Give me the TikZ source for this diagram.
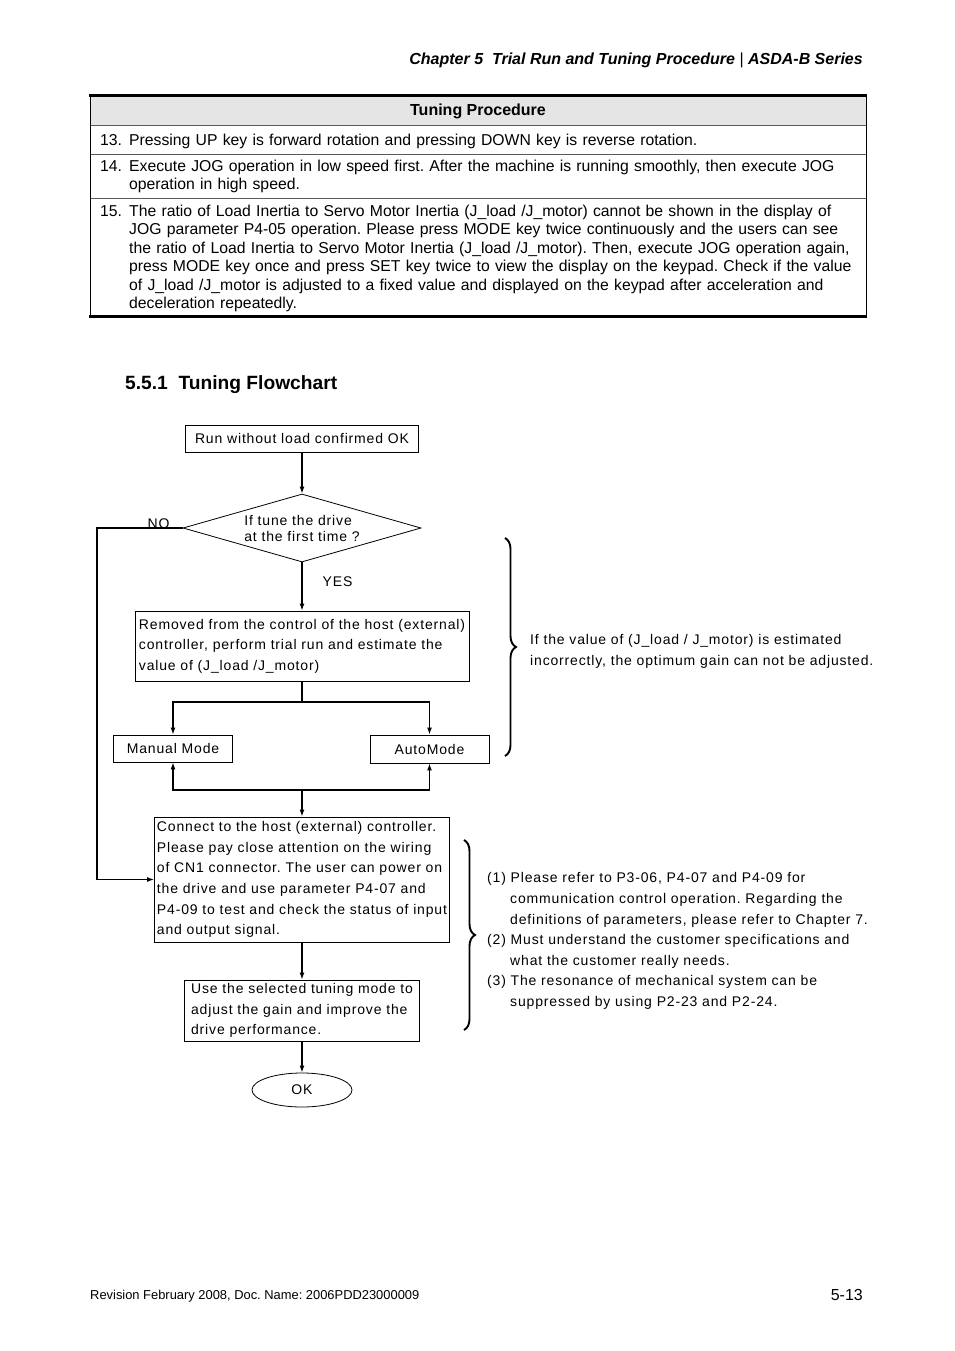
\documentclass[tikz,border=0pt]{standalone}
\usepackage{fontspec}
\setmainfont{Liberation Sans}
\newfontfamily\chartfont[LetterSpace=6]{Liberation Sans}
\usetikzlibrary{positioning,shapes.geometric,arrows.meta,decorations.pathreplacing}
\frenchspacing

\begin{document}
\begin{tikzpicture}[x=1pt,y=-1pt,>={Latex[length=7pt,width=5pt]},font=\fontsize{15.75}{18.4}\selectfont]

    \tikzstyle{box}=[draw,line width=0.8pt,rectangle,align=left,inner sep=0pt,font=\chartfont\fontsize{14}{20.6}\selectfont]
    \tikzstyle{flow}=[line width=1.3pt]
    \tikzstyle{rowtext}=[anchor=base west,inner sep=0pt,text width=760pt,align=left]
    \tikzstyle{note}=[anchor=west,inner sep=0pt,align=left,font=\chartfont\fontsize{14}{20.6}\selectfont]
    \tikzstyle{curly}=[decorate,decoration={brace,amplitude=11pt},line width=1.9pt]

    \useasboundingbox (0,0) rectangle (954,1351);

    % page head
    \node[anchor=base east,inner sep=0pt,font=\bfseries\itshape\fontsize{16}{18}\selectfont] (head) at (863,64.5) {Chapter 5\ \ Trial Run and Tuning Procedure \textnormal{|} ASDA-B Series};

    % table
    \fill[gray!20] (90,97) rectangle (866,125);
    \draw[gray!70!black,line width=0.8pt] (90,125) -- (866,125) (90,154) -- (866,154) (90,198) -- (866,198);
    \draw[line width=0.8pt] (90,95) -- (90,316) (866,95) -- (866,316);
    \draw[line width=3pt] (89,95.5) -- (867,95.5) (89,316) -- (867,316);

    \node[anchor=base,inner sep=0pt,font=\bfseries\fontsize{16}{18}\selectfont] (title) at (478,116) {Tuning Procedure};
    \node[anchor=base west,inner sep=0pt] (n13) at (100,145.5) {13.};
    \node[rowtext] (r13) at (129,145.5) {Pressing UP key is forward rotation and pressing DOWN key is reverse rotation.};
    \node[anchor=base west,inner sep=0pt] (n14) at (100,171.5) {14.};
    \node[rowtext] (r14) at (129,171.5) {Execute JOG operation in low speed first. After the machine is running smoothly, then execute JOG\\operation in high speed.};
    \node[anchor=base west,inner sep=0pt] (n15) at (100,216.5) {15.};
    \node[rowtext] (r15) at (129,216.5) {The ratio of Load Inertia to Servo Motor Inertia (J\_load /J\_motor) cannot be shown in the display of\\JOG parameter P4-05 operation. Please press MODE key twice continuously and the users can see\\the ratio of Load Inertia to Servo Motor Inertia (J\_load /J\_motor). Then, execute JOG operation again,\\press MODE key once and press SET key twice to view the display on the keypad. Check if the value\\of J\_load /J\_motor is adjusted to a fixed value and displayed on the keypad after acceleration and\\deceleration repeatedly.};

    % section
    \node[anchor=base west,inner sep=0pt,font=\bfseries\fontsize{19.2}{22}\selectfont] (sec) at (125,389.5) {5.5.1\ \ Tuning Flowchart};

    % flowchart
    \node[box,minimum width=233pt,minimum height=27pt] (start) at (302,438.5) {Run without load confirmed OK};
    \node[box,diamond,aspect=3.5,minimum width=238pt,minimum height=68pt,font=\chartfont\fontsize{14}{16}\selectfont] (first) at (302,528) {If tune the drive\\at the first time ?};
    \node[box,minimum width=334pt,minimum height=70pt] (est) at (302,646) {Removed from the control of the host (external)\\controller, perform trial run and estimate the\\value of (J\_load /J\_motor)};
    \node[box,minimum width=119pt,minimum height=27pt] (manual) at (173,748.5) {Manual Mode};
    \node[box,minimum width=119pt,minimum height=28pt] (auto) at (429.5,749) {AutoMode};
    \node[box,minimum width=295pt,minimum height=125pt] (host) at (302,879.5) {Connect to the host (external) controller.\\Please pay close attention on the wiring\\of CN1 connector. The user can power on\\the drive and use parameter P4-07 and\\P4-09 to test and check the status of input\\and output signal.};
    \node[box,minimum width=235pt,minimum height=61pt] (tune) at (302,1010.5) {Use the selected tuning mode to\\adjust the gain and improve the\\drive performance.};
    \node[box,ellipse,minimum width=100pt,minimum height=34pt] (ok) at (302,1090) {OK};

    \coordinate (split)  at (302,702);
    \coordinate (merge)  at (302,790);
    \coordinate (noturn) at (97,528);

    \draw[flow,->] (start) -- (first);
    \draw[flow,->] (first) -- node[pos=0.4,anchor=west,xshift=20pt,inner sep=0pt,font=\chartfont\fontsize{14}{16}\selectfont] {YES} (est);
    \draw[flow,->] (first.west) -- node[pos=0.28,anchor=base,inner sep=0pt,font=\chartfont\fontsize{14}{16}\selectfont] {NO} (noturn) |- (host.west);
    \draw[flow] (est) -- (split);
    \draw[flow,->] (split) -| (manual);
    \draw[flow,->] (split) -| (auto);
    \draw[flow,->] (merge) -| (manual);
    \draw[flow,->] (merge) -| (auto);
    \draw[flow,->] (merge) -- (host);
    \draw[flow,->] (host) -- (tune);
    \draw[flow,->] (tune) -- (ok);

    % remarks
    \coordinate (b1top) at (505,538);
    \coordinate (b1bot) at (505,756);
    \draw[curly] (b1top) -- (b1bot);
    \node[note] (why) at (530,651.5) {If the value of (J\_load / J\_motor) is estimated\\incorrectly, the optimum gain can not be adjusted.};

    \coordinate (b2top) at (464,840);
    \coordinate (b2bot) at (464,1030);
    \draw[curly] (b2top) -- (b2bot);
    \node[note] (hints) at (487,941) {(1) Please refer to P3-06, P4-07 and P4-09 for\\\hspace*{23pt}communication control operation. Regarding the\\\hspace*{23pt}definitions of parameters, please refer to Chapter 7.\\(2) Must understand the customer specifications and\\\hspace*{23pt}what the customer really needs.\\(3) The resonance of mechanical system can be\\\hspace*{23pt}suppressed by using P2-23 and P2-24.};

    % page foot
    \node[anchor=base west,inner sep=0pt,font=\fontsize{12.9}{15}\selectfont] (foot) at (90,1299.5) {Revision February 2008, Doc. Name: 2006PDD23000009};
    \node[anchor=base east,inner sep=0pt,font=\fontsize{16}{18}\selectfont] (page) at (863,1300) {5-13};

\end{tikzpicture}
\end{document}
